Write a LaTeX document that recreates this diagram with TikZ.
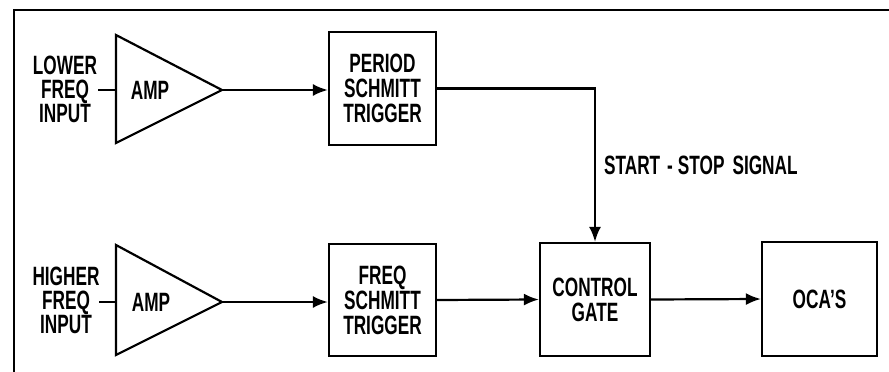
\documentclass[tikz,border=0pt]{standalone}
\usepackage{fontspec}
\setmainfont[FakeStretch=0.65]{Liberation Sans}
\usetikzlibrary{arrows.meta}
\begin{document}
\begin{tikzpicture}[x=1pt,y=-1pt,line width=2.2pt,line join=miter,
  lbl/.style={font=\bfseries\fontsize{26.5}{24}\selectfont,align=center,inner sep=0pt},
  blk/.style={draw,line width=2.2pt,inner sep=0pt,font=\bfseries\fontsize{26.5}{25}\selectfont,align=center},
  arr/.style={-{Latex[length=15pt,width=12pt]}}]
\useasboundingbox (0,0) rectangle (889,372);
% frame
\draw[line width=1.8pt] (14,372) -- (14,10) -- (889,10);
% amplifiers
\coordinate (ampAin) at (116,90);
\coordinate (ampAout) at (222,90);
\draw (116,35) -- (ampAout) -- (116,143) -- cycle;
\node[lbl] (ampA) at (150,90) {AMP};
\coordinate (ampBin) at (116,302);
\coordinate (ampBout) at (222,302);
\draw (116,245) -- (ampBout) -- (116,355) -- cycle;
\node[lbl] (ampB) at (151,302) {AMP};
% input labels
\node[lbl] (lowin) at (65,89) {LOWER\\FREQ\\INPUT};
\node[lbl] (highin) at (66,300) {HIGHER\\FREQ\\INPUT};
\coordinate (lowend) at (98,90);
\coordinate (highend) at (99,302);
\draw (lowend) -- (ampAin);
\draw (highend) -- (ampBin);
% blocks
\node[blk,minimum width=107pt,minimum height=113pt] (period) at (382.5,88.5) {PERIOD\\SCHMITT\\TRIGGER};
\node[blk,minimum width=107pt,minimum height=112pt] (freq) at (382.5,300) {FREQ\\SCHMITT\\TRIGGER};
\node[blk,minimum width=110pt,minimum height=113pt] (gate) at (595,299.5) {CONTROL\\GATE};
\node[blk,minimum width=115pt,minimum height=114pt] (oca) at (819.5,299) {OCA'S};
% connectors
\draw[arr] (ampAout) -- (ampAout -| period.west);
\draw[arr] (ampBout) -- (ampBout -| freq.west);
\draw[arr] (period.east) -| (gate.north);
\draw[arr] (freq.east) -- (gate.west);
\draw[arr] (gate.east) -- (oca.west);
\node[lbl,anchor=west] (sig) at (603,165) {START\hspace{7pt}-\hspace{5pt}STOP\hspace{8pt}SIGNAL};
\end{tikzpicture}
\end{document}
